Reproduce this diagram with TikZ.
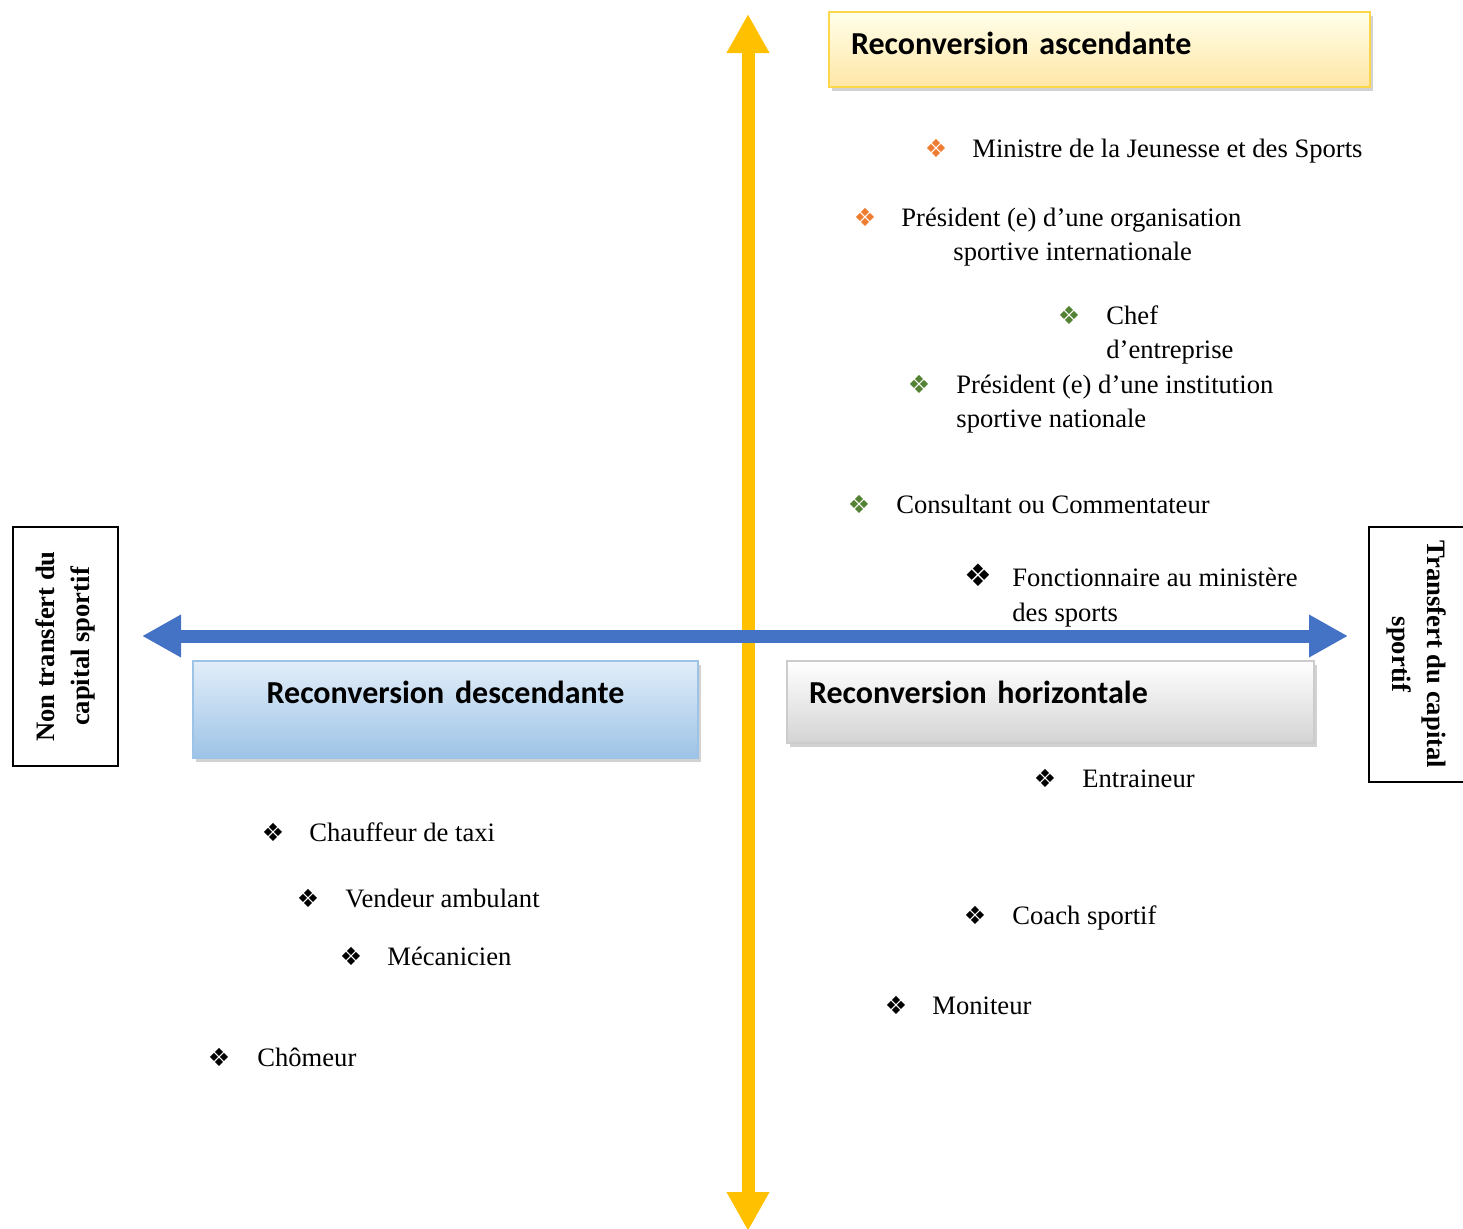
\documentclass[tikz,border=0pt]{standalone}
\usepackage{fontspec}
\setmainfont{Liberation Serif}
\newfontfamily\titrefont{Carlito}
\newfontfamily\symbfont{DejaVu Sans}
\usetikzlibrary{arrows.meta,shadows,positioning}
\definecolor{jaune}{HTML}{FFC000}
\definecolor{bleu}{HTML}{4472C4}
\definecolor{ciel}{HTML}{9DC3E6}
\definecolor{cielclair}{HTML}{E2EEF9}
\definecolor{puceorange}{HTML}{ED7D31}
\definecolor{pucevert}{HTML}{548235}
\tikzset{
  titre/.style={
      rectangle, draw, line width=0.8pt,
      font=\titrefont\bfseries\fontsize{16}{19}\selectfont,
      inner xsep=11pt, inner ysep=0pt, text height=11pt,
      drop shadow={shadow xshift=1.5pt,shadow yshift=-2pt,fill=black!35},
  },
  cote/.style={
      rectangle, draw, line width=1pt, fill=white,
      font=\bfseries\fontsize{13.3}{17.5}\selectfont, align=center, inner sep=0pt,
  },
  item/.style={anchor=base west, inner sep=0pt},
  puce/.style={anchor=center, inner sep=0pt, font=\symbfont\fontsize{12.5}{12.5}\selectfont},
  axe/.style={
    line width=6.5pt, {Triangle[width=20pt,length=19.5pt]}-{Triangle[width=20pt,length=19.5pt]},
  }
}

\begin{document}
\begin{tikzpicture}[x=0.5pt,y=-0.5pt,font=\fontsize{13.3}{17.5}\selectfont]
\useasboundingbox (0,0) rectangle (1463,1228);
\coordinate (haut) at (748,14);
\coordinate (bas) at (748,1231);
\coordinate (gauche) at (142,636);
\coordinate (droite) at (1348,636);

% axes
\draw [axe, jaune] (haut) -- (bas);
\draw [axe, bleu] (gauche) -- (droite);

% cadres des types de reconversion
\node [titre, draw=yellow!60!orange!70, top color=yellow!8, bottom color=yellow!45!orange!35,
  text width=248.5pt, minimum height=37.5pt, text depth=6pt, align=left] (asc) at (1099.5,49.5) {Reconversion ascendante};
\node [titre, draw=ciel, top color=cielclair, bottom color=ciel,
  text width=230.5pt, minimum height=48.5pt, text depth=17pt, align=center] (desc) at (445.5,709.5) {Reconversion descendante};
\node [titre, draw=black!20, top color=white, bottom color=black!17,
  text width=241.5pt, minimum height=41pt, text depth=9.7pt, align=left] (hor) at (1050.5,702) {Reconversion horizontale};

% poles
\node [cote, rotate=90, minimum width=119.5pt, minimum height=52.5pt] (nontransf) at (65.5,646.5) {Non transfert du\\capital sportif};
\node [cote, rotate=-90, minimum width=127.5pt, minimum height=48pt] (transf) at (1417,654.5) {Transfert du capital\\sportif};

% metiers ascendants
\node [puce, text=puceorange] (p1) at (936,148) {❖};
\node [item] (ministre) at (972,157) {Ministre de la Jeunesse et des Sports};
\node [puce, text=puceorange] (p2) at (865,217) {❖};
\node [item] (orgint) at (901,226) {Président (e) d’une organisation};
\node [item] (orgint2) at (953,260) {sportive internationale};
\node [puce, text=pucevert] (p3) at (1069,315) {❖};
\node [item] (chef) at (1106,324) {Chef};
\node [item] (chef2) at (1106,358) {d’entreprise};
\node [puce, text=pucevert] (p4) at (919,384) {❖};
\node [item] (instnat) at (956,393) {Président (e) d’une institution};
\node [item] (instnat2) at (956,427) {sportive nationale};
\node [puce, text=pucevert] (p5) at (859,504) {❖};
\node [item] (consult) at (896,513) {Consultant ou Commentateur};
\node [puce, font=\symbfont\fontsize{15.5}{15.5}\selectfont] (p6) at (978,575) {❖};
\node [item] (fonct) at (1012,586) {Fonctionnaire au ministère};
\node [item] (fonct2) at (1012,621) {des sports};

% metiers horizontaux
\node [puce] (p7) at (1045,778) {❖};
\node [item] (entr) at (1082,787) {Entraineur};
\node [puce] (p8) at (975,915) {❖};
\node [item] (coach) at (1012,924) {Coach sportif};
\node [puce] (p9) at (896,1005) {❖};
\node [item] (moniteur) at (932,1014) {Moniteur};

% metiers descendants
\node [puce] (p10) at (273,832) {❖};
\node [item] (taxi) at (309,841) {Chauffeur de taxi};
\node [puce] (p11) at (308,898) {❖};
\node [item] (vendeur) at (345,907) {Vendeur ambulant};
\node [puce] (p12) at (351,956) {❖};
\node [item] (meca) at (387,965) {Mécanicien};
\node [puce] (p13) at (219,1057) {❖};
\node [item] (chomeur) at (257,1066) {Chômeur};
\end{tikzpicture}
\end{document}
